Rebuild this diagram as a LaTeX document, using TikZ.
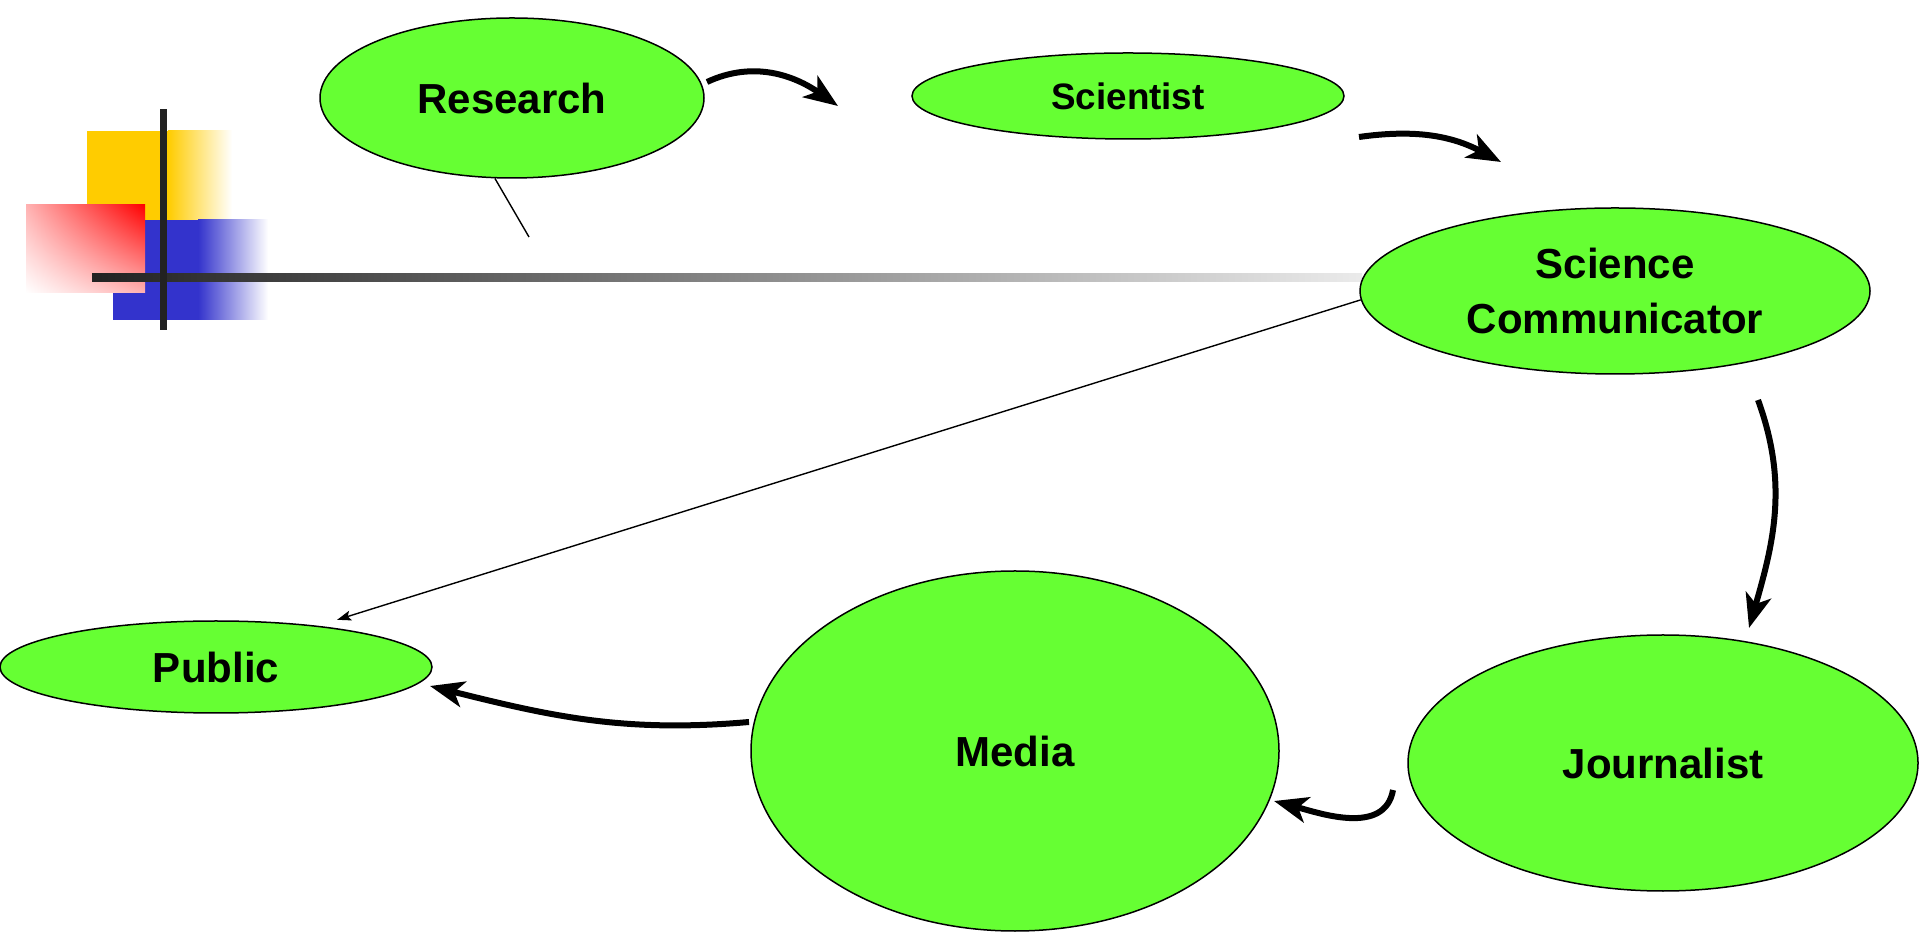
\documentclass[tikz,border=0pt]{standalone}
\usepackage{fontspec}
\setmainfont{Liberation Sans}
\usepackage{tikz}
\usetikzlibrary{arrows.meta}
\usetikzlibrary{shapes.geometric,shadings}
\definecolor{bubblegreen}{HTML}{66FF33}
\definecolor{barblack}{HTML}{222222}
\definecolor{tileyellow}{HTML}{FFCC00}
\definecolor{tileblue}{HTML}{3333CC}

\begin{document}
\begin{tikzpicture}[x=0.5pt,y=0.5pt,
	bubble/.style={ellipse,draw,fill=bubblegreen,line width=0.75pt,inner sep=0pt,align=center,
		font=\bfseries\fontsize{21}{27.5}\selectfont},
	smallbubble/.style={bubble,font=\bfseries\fontsize{18.4}{22}\selectfont},
	flow/.style={line width=3pt,-{Stealth[length=17pt,width=13pt,inset=4.5pt]}},
	thinflow/.style={line width=0.7pt,-{Stealth[length=7pt,width=5pt,inset=1.5pt]}}
]
\useasboundingbox (0,0) rectangle (1920,931);

% corner logo
\fill[tileyellow] (87,711) rectangle (168,800);
\shade[left color=tileyellow,right color=white] (168,711) rectangle (232,800);
\fill[tileblue] (113,611) rectangle (198,711);
\shade[left color=tileblue,right color=white] (198,611) rectangle (268,711);
\shade[upper left=red!30,upper right=red,lower left=white,lower right=red!30] (26,638) rectangle (145,726);
\shade[left color=barblack,right color=black!8] (92,649) rectangle (1362,657);
\fill[barblack] (160,601) rectangle (167,822);

\node (res) [bubble,minimum width=192pt,minimum height=80pt] at (512,833) {Research};
\node (sci) [smallbubble,minimum width=216pt,minimum height=43pt] at (1128,835) {Scientist};
\node (comm) [bubble,minimum width=255pt,minimum height=83pt] at (1615,640) {Science\\Communicator};
\node (pub) [bubble,minimum width=216pt,minimum height=46pt] at (216,264) {Public};
\node (med) [bubble,minimum width=264pt,minimum height=180pt] at (1015,180) {Media};
\node (jour) [bubble,minimum width=255pt,minimum height=128pt] at (1663,168) {Journalist};

\coordinate (s1) at (707,849);
\coordinate (t1) at (838,825);
\coordinate (s2) at (1359,794);
\coordinate (t2) at (1501,769);
\coordinate (s3) at (1758,531);
\coordinate (t3) at (1749,303);
\coordinate (s4) at (1393,141);
\coordinate (t4) at (1274,130);
\coordinate (s5) at (749,209);
\coordinate (t5) at (430,245);
\coordinate (u) at (529,694);

\draw[flow] (s1) to[out=25,in=145] (t1);
\draw[flow] (s2) to[out=8,in=152] (t2);
\draw[flow] (s3) to[out=-70,in=74] (t3);
\draw[flow] (s4) to[out=-100,in=-15] (t4);
\draw[flow] (s5) to[out=185,in=-14] (t5);
\draw[thinflow,shorten >=10pt] (comm.182) -- (pub.22);
\draw[line width=0.7pt] (res.258) -- (u);

%\draw[flow] (med) -- (pub);
\end{tikzpicture}
\end{document}
